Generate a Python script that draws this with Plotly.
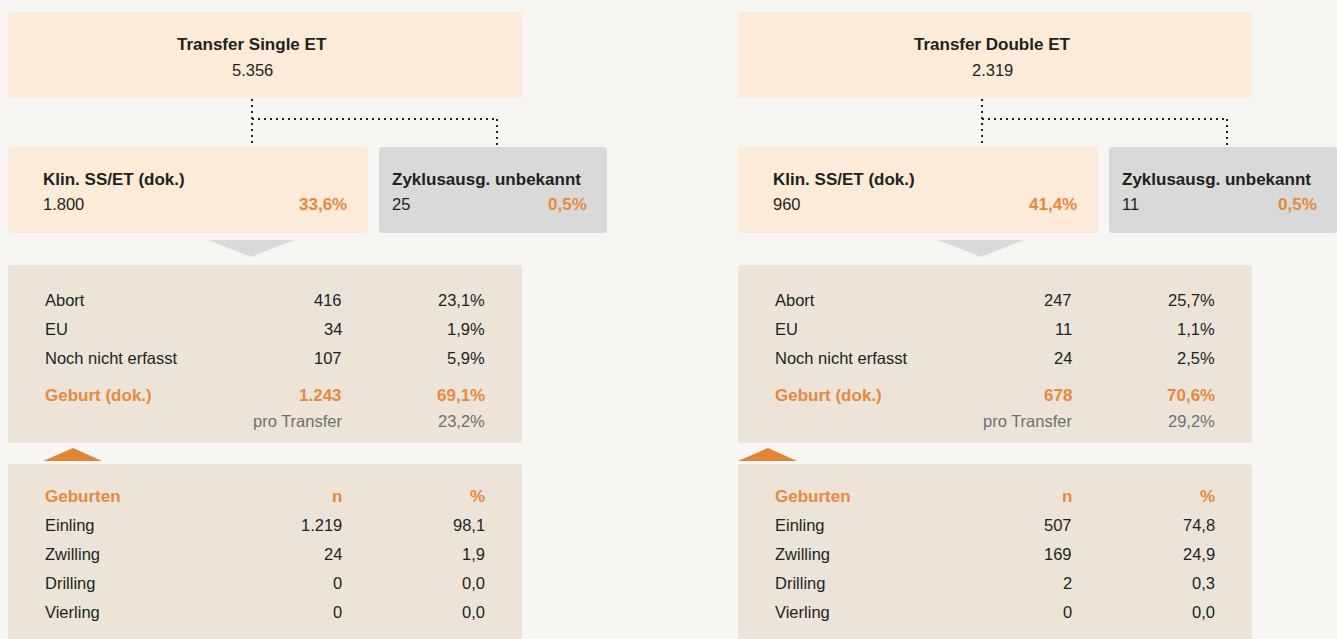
import plotly.graph_objects as go

# --- data ---
panel_titles = ["Transfer Single ET", "Transfer Double ET"]
transfers = ["5.356", "2.319"]
klin_n = ["1.800", "960"]
klin_pct = ["33,6%", "41,4%"]
unbekannt_n = ["25", "11"]
unbekannt_pct = ["0,5%", "0,5%"]

outcome_labels = ["Abort", "EU", "Noch nicht erfasst"]
outcome_n = [["416", "34", "107"], ["247", "11", "24"]]
outcome_pct = [["23,1%", "1,9%", "5,9%"], ["25,7%", "1,1%", "2,5%"]]
geburt_n = ["1.243", "678"]
geburt_pct = ["69,1%", "70,6%"]
pro_transfer = ["23,2%", "29,2%"]

birth_labels = ["Einling", "Zwilling", "Drilling", "Vierling"]
birth_n = [["1.219", "24", "0", "0"], ["507", "169", "2", "0"]]
birth_pct = [["98,1", "1,9", "0,0", "0,0"], ["74,8", "24,9", "0,3", "0,0"]]

# --- style ---
BG = "#f7f6f2"
PEACH = "#fcebd8"
SAND = "#ece4d8"
GREY = "#d9d9d9"
ORANGE = "#e8893b"
ORANGE_TRI = "#df8535"
DARK = "#231f20"
MUTED = "#707070"
FONT = "Liberation Sans"
REG = 16.5
BOLD = 17

panel_dx = [0, 730]
title_cx = [252, 992]
orange_tri_x = [43, 738]


def rrect(x0, y0, x1, y1, r=3):
    return (f"M {x0+r},{y0} L {x1-r},{y0} Q {x1},{y0} {x1},{y0+r} "
            f"L {x1},{y1-r} Q {x1},{y1} {x1-r},{y1} L {x0+r},{y1} "
            f"Q {x0},{y1} {x0},{y1-r} L {x0},{y0+r} Q {x0},{y0} {x0+r},{y0} Z")


shapes = []
annotations = []


def txt(x, y, s, anchor="left", size=REG, color=DARK, bold=False):
    if bold:
        s = f"<b>{s}</b>"
    # annotations carry a little padding; nudge so text edges land on x
    if anchor == "left":
        x -= 2
    elif anchor == "right":
        x += 2
    annotations.append(dict(x=x, y=y, text=s, xref="x", yref="y",
                            xanchor=anchor, yanchor="middle", showarrow=False,
                            font=dict(family=FONT, size=size, color=color)))


def box(x0, y0, x1, y1, color):
    shapes.append(dict(type="path", path=rrect(x0, y0, x1, y1), xref="x", yref="y",
                       fillcolor=color, line=dict(width=0), layer="below"))


def tri(pts, color):
    p = "M " + " L ".join(f"{x},{y}" for x, y in pts) + " Z"
    shapes.append(dict(type="path", path=p, xref="x", yref="y",
                       fillcolor=color, line=dict(width=0), layer="below"))


def dotted(x0, y0, x1, y1):
    shapes.append(dict(type="line", x0=x0, y0=y0, x1=x1, y1=y1, xref="x", yref="y",
                       line=dict(color=DARK, width=2, dash="2px,4px")))


for i, dx in enumerate(panel_dx):
    # boxes
    box(8 + dx, 12, 522 + dx, 98, PEACH)
    box(8 + dx, 147, 368 + dx, 233, PEACH)
    box(379 + dx, 147, 607 + dx, 233, GREY)
    box(8 + dx, 265, 522 + dx, 443, SAND)
    box(8 + dx, 464, 522 + dx, 680, SAND)

    # connectors
    dotted(252 + dx, 99, 252 + dx, 146)
    dotted(252 + dx, 119, 497 + dx, 119)
    dotted(497 + dx, 119, 497 + dx, 146)
    tri([(208 + dx, 240), (294 + dx, 240), (251 + dx, 257)], GREY)
    ox = orange_tri_x[i]
    tri([(ox, 461), (ox + 59, 461), (ox + 30, 448)], ORANGE_TRI)

    # top box
    txt(title_cx[i], 44, panel_titles[i], "center", BOLD, bold=True)
    txt(title_cx[i], 70, transfers[i], "center")

    # second level
    txt(43 + dx, 179, "Klin. SS/ET (dok.)", "left", BOLD, bold=True)
    txt(43 + dx, 204, klin_n[i], "left")
    txt(347 + dx, 204, klin_pct[i], "right", BOLD, ORANGE, bold=True)
    txt(392 + dx, 179, "Zyklusausg. unbekannt", "left", BOLD, bold=True)
    txt(392 + dx, 204, unbekannt_n[i], "left")
    txt(587 + dx, 204, unbekannt_pct[i], "right", BOLD, ORANGE, bold=True)

    # outcomes
    for j, (lab, n, p) in enumerate(zip(outcome_labels, outcome_n[i], outcome_pct[i])):
        y = 300 + j * 29
        txt(45 + dx, y, lab, "left")
        txt(342 + dx, y, n, "right")
        txt(485 + dx, y, p, "right")
    txt(45 + dx, 395, "Geburt (dok.)", "left", BOLD, ORANGE, bold=True)
    txt(342 + dx, 395, geburt_n[i], "right", BOLD, ORANGE, bold=True)
    txt(485 + dx, 395, geburt_pct[i], "right", BOLD, ORANGE, bold=True)
    txt(342 + dx, 421, "pro Transfer", "right", REG, MUTED)
    txt(485 + dx, 421, pro_transfer[i], "right", REG, MUTED)

    # births
    txt(45 + dx, 496, "Geburten", "left", BOLD, ORANGE, bold=True)
    txt(342 + dx, 496, "n", "right", BOLD, ORANGE, bold=True)
    txt(485 + dx, 496, "%", "right", BOLD, ORANGE, bold=True)
    for j, (lab, n, p) in enumerate(zip(birth_labels, birth_n[i], birth_pct[i])):
        y = 525 + j * 29
        txt(45 + dx, y, lab, "left")
        txt(342 + dx, y, n, "right")
        txt(485 + dx, y, p, "right")

fig = go.Figure()
fig.add_trace(go.Scatter(x=[], y=[], mode="markers", showlegend=False))
fig.update_layout(
    width=1337, height=639,
    margin=dict(l=0, r=0, t=0, b=0),
    paper_bgcolor=BG, plot_bgcolor=BG,
    xaxis=dict(range=[0, 1337], visible=False, fixedrange=True),
    yaxis=dict(range=[639, 0], visible=False, fixedrange=True),
    shapes=shapes, annotations=annotations,
    showlegend=False,
)
fig.write_html(
    "out.html",
    config={"displayModeBar": False},
    post_script="document.body.style.margin='0';document.body.style.background='%s';" % BG,
)
